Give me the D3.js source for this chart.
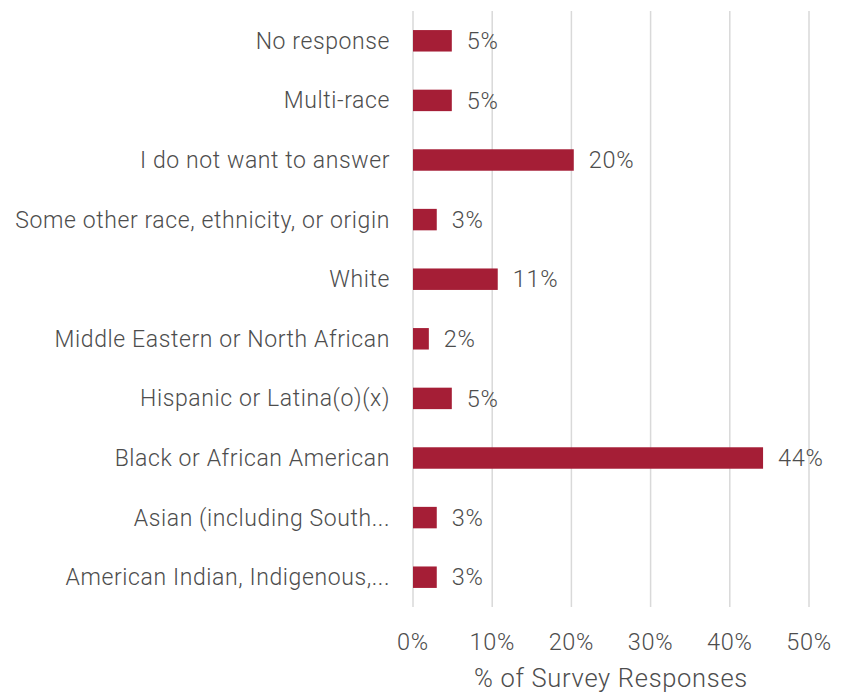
<!DOCTYPE html>
<html>
<head>
<meta charset="utf-8">
<script src="https://cdn.jsdelivr.net/npm/d3@7"></script>
<style>
  body { margin: 0; background: #fff; }
  text { font-family: Roboto, "Noto Sans", sans-serif; font-weight: 300; fill: #4d4d4d; letter-spacing: 0.7px; }
</style>
</head>
<body>
<svg id="chart"></svg>
<script>
// categories top to bottom, as they appear in the chart
var categories = [
  "No response",
  "Multi-race",
  "I do not want to answer",
  "Some other race, ethnicity, or origin",
  "White",
  "Middle Eastern or North African",
  "Hispanic or Latina(o)(x)",
  "Black or African American",
  "Asian (including South...",
  "American Indian, Indigenous,..."
]
var values = [4.9, 4.9, 20.3, 3.0, 10.7, 2.0, 4.9, 44.2, 3.0, 3.0]
var valueLabels = ["5%", "5%", "20%", "3%", "11%", "2%", "5%", "44%", "3%", "3%"]
var xTicks = [0, 10, 20, 30, 40, 50]

var W = 848, H = 696
var margin = {top: 11, right: 39, bottom: 89, left: 413}
  , width = W - margin.left - margin.right
  , height = H - margin.top - margin.bottom

var svg = d3.select("#chart").attr("width", W).attr("height", H)
var g = svg.append("g").attr("transform", "translate(" + margin.left + "," + margin.top + ")")

var x = d3.scaleLinear().domain([0, 50]).range([0, width])
var y = d3.scaleBand().domain(categories).range([0, height]).paddingInner(0.64).paddingOuter(0.32)

// gridlines
g.selectAll(".grid")
  .data(xTicks)
  .enter().append("line")
  .attr("x1", d => x(d)).attr("x2", d => x(d))
  .attr("y1", 0).attr("y2", height)
  .attr("stroke", "#d9d9d9").attr("stroke-width", 1.5)

// tick labels
g.selectAll(".xtick")
  .data(xTicks)
  .enter().append("text")
  .attr("x", d => x(d))
  .attr("y", height + 43)
  .attr("text-anchor", "middle")
  .style("font-size", "23.5px")
  .text(d => d + "%")

// category labels
g.selectAll(".ylab")
  .data(categories)
  .enter().append("text")
  .attr("x", -23)
  .attr("y", d => y(d) + y.bandwidth() / 2)
  .attr("dy", "0.35em")
  .attr("text-anchor", "end")
  .style("font-size", "23px")
  .style("letter-spacing", "0.6px")
  .text(d => d)

// bars
g.selectAll(".bar")
  .data(categories)
  .enter().append("rect")
  .attr("x", 0)
  .attr("y", d => y(d))
  .attr("width", (d, i) => x(values[i]))
  .attr("height", y.bandwidth())
  .attr("fill", "#a51e36")

// value labels
g.selectAll(".val")
  .data(categories)
  .enter().append("text")
  .attr("x", (d, i) => x(values[i]) + 15)
  .attr("y", d => y(d) + y.bandwidth() / 2)
  .attr("dy", "0.35em")
  .style("font-size", "23.5px")
  .text((d, i) => valueLabels[i])

// axis title
g.append("text")
  .attr("x", width / 2)
  .attr("y", height + 80)
  .attr("text-anchor", "middle")
  .style("font-size", "25.5px")
  .text("% of Survey Responses")
</script>
</body>
</html>
